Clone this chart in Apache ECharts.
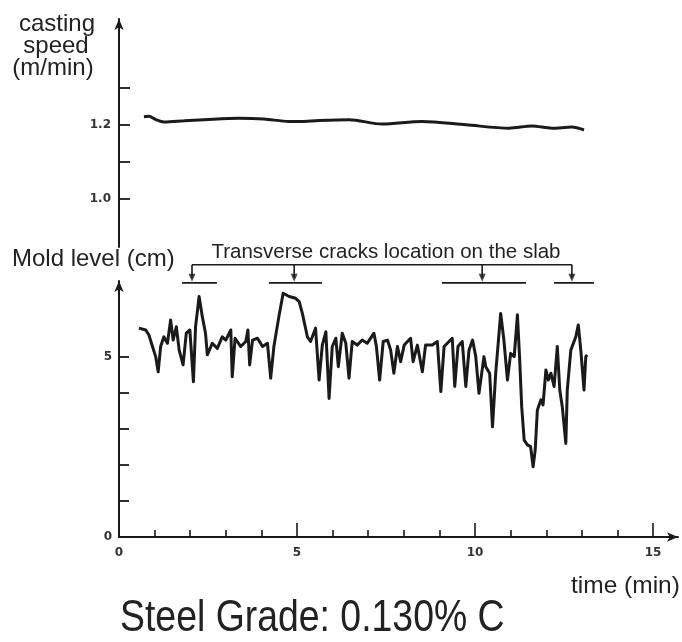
<!DOCTYPE html>
<html>
<head>
<meta charset="utf-8">
<script src="https://cdn.jsdelivr.net/npm/echarts@6/dist/echarts.min.js"></script>
<style>
html, body { margin: 0; padding: 0; background: #fff; }
#chart { width: 682px; height: 642px; }
</style>
</head>
<body>
<div id="chart"></div>
<script>
// casting speed (m/min) vs time (min)
const castingSpeed = [
  [0.70, 1.222], [0.84, 1.223], [1.04, 1.214], [1.26, 1.208], [1.83, 1.211],
  [2.39, 1.214], [3.37, 1.218], [4.07, 1.216], [4.78, 1.209], [5.06, 1.209],
  [5.62, 1.212], [6.46, 1.214], [7.39, 1.202], [8.51, 1.209], [9.75, 1.200],
  [10.96, 1.191], [11.60, 1.197], [12.16, 1.191], [12.72, 1.194], [13.06, 1.186]
]

// mold level (cm) vs time (min)
const moldLevel = [
  [0.56, 5.80], [0.75, 5.75], [0.84, 5.61], [0.94, 5.29], [1.03, 5.01], [1.10, 4.59],
  [1.17, 5.29], [1.26, 5.56], [1.36, 5.38], [1.45, 6.03], [1.52, 5.47], [1.61, 5.84],
  [1.69, 5.19], [1.80, 4.78], [1.89, 5.66], [1.99, 5.75], [2.09, 4.31], [2.15, 5.84],
  [2.25, 6.68], [2.34, 6.12], [2.43, 5.66], [2.48, 5.06], [2.62, 5.38], [2.76, 5.24],
  [2.90, 5.56], [3.00, 5.47], [3.14, 5.75], [3.18, 4.45], [3.26, 5.52], [3.42, 5.29],
  [3.56, 5.43], [3.62, 5.75], [3.67, 4.78], [3.75, 5.47], [3.89, 5.52], [4.03, 5.29],
  [4.17, 5.38], [4.26, 4.41], [4.35, 5.29], [4.49, 6.12], [4.61, 6.77], [4.78, 6.68],
  [4.96, 6.63], [5.06, 6.54], [5.15, 6.21], [5.29, 5.56], [5.38, 5.43], [5.52, 5.80],
  [5.62, 4.36], [5.71, 5.33], [5.81, 5.70], [5.90, 3.85], [5.99, 5.29], [6.09, 5.52],
  [6.16, 4.73], [6.27, 5.66], [6.37, 5.38], [6.46, 4.41], [6.55, 5.43], [6.69, 5.33],
  [6.83, 5.47], [6.97, 5.38], [7.16, 5.66], [7.23, 5.29], [7.32, 4.36], [7.42, 5.43],
  [7.54, 5.47], [7.63, 5.19], [7.72, 4.55], [7.82, 5.29], [7.91, 4.87], [8.01, 5.33],
  [8.19, 5.52], [8.26, 4.87], [8.38, 5.33], [8.52, 4.59], [8.61, 5.33], [8.80, 5.33],
  [8.94, 5.43], [9.04, 4.04], [9.13, 5.29], [9.27, 5.43], [9.36, 5.52], [9.43, 4.18],
  [9.52, 5.29], [9.64, 5.43], [9.74, 4.18], [9.83, 5.19], [9.93, 5.47], [10.02, 5.01],
  [10.11, 3.99], [10.25, 5.01], [10.30, 4.73], [10.41, 4.55], [10.49, 3.06], [10.58, 4.55],
  [10.72, 6.21], [10.81, 5.47], [10.91, 4.36], [11.00, 5.10], [11.10, 5.01], [11.19, 6.17],
  [11.25, 5.01], [11.31, 3.62], [11.38, 2.69], [11.47, 2.56], [11.56, 2.51], [11.63, 1.95],
  [11.69, 2.42], [11.75, 3.53], [11.85, 3.81], [11.91, 3.67], [11.99, 4.64], [12.06, 4.36],
  [12.13, 4.55], [12.22, 4.18], [12.31, 5.29], [12.38, 4.08], [12.45, 3.62], [12.55, 2.60],
  [12.59, 4.08], [12.69, 5.19], [12.83, 5.56], [12.90, 5.89], [12.97, 5.19], [13.06, 4.08],
  [13.11, 5.01], [13.15, 5.06]
]

// transverse crack locations on the slab (min)
const crackArrowTime = [2.05, 4.92, 10.20, 12.72]
const crackZoneStart = [1.77, 4.21, 9.07, 12.22]
const crackZoneEnd = [2.75, 5.70, 11.43, 13.34]

// ticks and labels
const timeLabels = [0, 5, 10, 15]
const timeMinorTicks = [1, 2, 3, 4, 6, 7, 8, 9, 11, 12, 13, 14]
const speedTicks = [1.0, 1.1, 1.2, 1.3]
const speedLabels = [1.0, 1.2]
const levelTicks = [1, 2, 3, 4, 5]
const levelLabels = [0, 5]

const bracketLevel = 7.56
const arrowLevel = 7.2
const zoneLevel = 7.06

const INK = '#1a1a1a'
const FONT = "'Liberation Sans', Arial, sans-serif"
const TICK_FONT = { fontFamily: 'DejaVu Sans', fontWeight: 'bold', fontSize: 12, color: '#333' }

const chart = echarts.init(document.getElementById('chart'))

const gridBox = { left: 119, width: 559 }
const arrowLine = (w) => ({
  show: true,
  symbol: ['none', 'arrow'],
  symbolSize: [7, 11],
  lineStyle: { color: INK, width: w },
})

const bracketSeries = [
  {
    type: 'line', xAxisIndex: 1, yAxisIndex: 1, clip: false, symbol: 'none', silent: true,
    lineStyle: { color: INK, width: 1.6 },
    data: [[crackArrowTime[0], bracketLevel], [crackArrowTime[crackArrowTime.length - 1], bracketLevel]],
  },
  ...crackArrowTime.map((t) => ({
    type: 'line', xAxisIndex: 1, yAxisIndex: 1, clip: false, symbol: 'none', silent: true,
    lineStyle: { color: INK, width: 1.6 },
    data: [[t, bracketLevel], [t, arrowLevel]],
  })),
  ...crackZoneStart.map((s, i) => ({
    type: 'line', xAxisIndex: 1, yAxisIndex: 1, clip: false, symbol: 'none', silent: true,
    lineStyle: { color: INK, width: 1.8 },
    data: [[s, zoneLevel], [crackZoneEnd[i], zoneLevel]],
  })),
  {
    type: 'scatter', xAxisIndex: 1, yAxisIndex: 1, clip: false, silent: true,
    symbol: 'triangle', symbolRotate: 180, symbolSize: [7, 8],
    itemStyle: { color: INK },
    data: crackArrowTime.map((t) => [t, arrowLevel]),
  },
]

chart.setOption({
  backgroundColor: '#fff',
  animation: false,
  grid: [
    { ...gridBox, top: 19, height: 228 },
    { ...gridBox, top: 281, height: 256 },
    { ...gridBox, top: 281, height: 256 },
  ],
  xAxis: [
    { gridIndex: 0, type: 'value', min: 0, max: 15.7, show: false },
    {
      gridIndex: 1, type: 'value', min: 0, max: 15.7,
      axisLine: arrowLine(2),
      axisTick: { show: true, inside: true, length: 7, customValues: timeMinorTicks, lineStyle: { color: INK, width: 1.6 } },
      axisLabel: { show: false },
      splitLine: { show: false },
    },
    {
      gridIndex: 2, type: 'value', min: 0, max: 15.7,
      axisLine: { show: false },
      axisTick: { show: true, inside: true, length: 14, customValues: timeLabels, lineStyle: { color: INK, width: 1.6 } },
      axisLabel: { ...TICK_FONT, margin: 10, customValues: timeLabels },
      splitLine: { show: false },
    },
  ],
  yAxis: [
    {
      gridIndex: 0, type: 'value', min: 0.87, max: 1.486,
      axisLine: arrowLine(2),
      axisTick: { show: true, inside: true, length: 11, customValues: speedTicks, lineStyle: { color: INK, width: 1.8 } },
      axisLabel: { ...TICK_FONT, margin: 8, customValues: speedLabels, formatter: (v) => v.toFixed(1) },
      splitLine: { show: false },
    },
    {
      gridIndex: 1, type: 'value', min: 0, max: 7.11,
      axisLine: arrowLine(2),
      axisTick: { show: true, inside: true, length: 10, customValues: levelTicks, lineStyle: { color: INK, width: 1.8 } },
      axisLabel: { ...TICK_FONT, margin: 7, customValues: levelLabels },
      splitLine: { show: false },
    },
    { gridIndex: 2, type: 'value', min: 0, max: 7.11, show: false },
  ],
  series: [
    {
      type: 'line', xAxisIndex: 0, yAxisIndex: 0, symbol: 'none', smooth: 0.3,
      lineStyle: { color: INK, width: 3 },
      data: castingSpeed,
    },
    {
      type: 'line', xAxisIndex: 1, yAxisIndex: 1, symbol: 'none',
      lineStyle: { color: INK, width: 3, join: 'round' },
      data: moldLevel,
    },
    ...bracketSeries,
  ],
  graphic: [
    { type: 'text', x: 57, y: 24, style: { text: 'casting', font: `24px ${FONT}`, fill: '#222', align: 'center', verticalAlign: 'middle' } },
    { type: 'text', x: 56, y: 46, style: { text: 'speed', font: `24px ${FONT}`, fill: '#222', align: 'center', verticalAlign: 'middle' } },
    { type: 'text', x: 53, y: 68, style: { text: '(m/min)', font: `24px ${FONT}`, fill: '#222', align: 'center', verticalAlign: 'middle' } },
    { type: 'text', x: 12, y: 259, style: { text: 'Mold level (cm)', font: `24px ${FONT}`, fill: '#222', align: 'left', verticalAlign: 'middle' } },
    { type: 'text', x: 386, y: 252, style: { text: 'Transverse cracks location on the slab', font: `20.5px ${FONT}`, fill: '#222', align: 'center', verticalAlign: 'middle' } },
    { type: 'text', x: 571, y: 586, style: { text: 'time (min)', font: `24.5px ${FONT}`, fill: '#222', align: 'left', verticalAlign: 'middle' } },
    { type: 'text', x: 120, y: 619, scaleX: 0.85, style: { text: 'Steel Grade: 0.130% C', font: `44px ${FONT}`, fill: '#222', align: 'left', verticalAlign: 'middle' } },
  ],
})
</script>
</body>
</html>
